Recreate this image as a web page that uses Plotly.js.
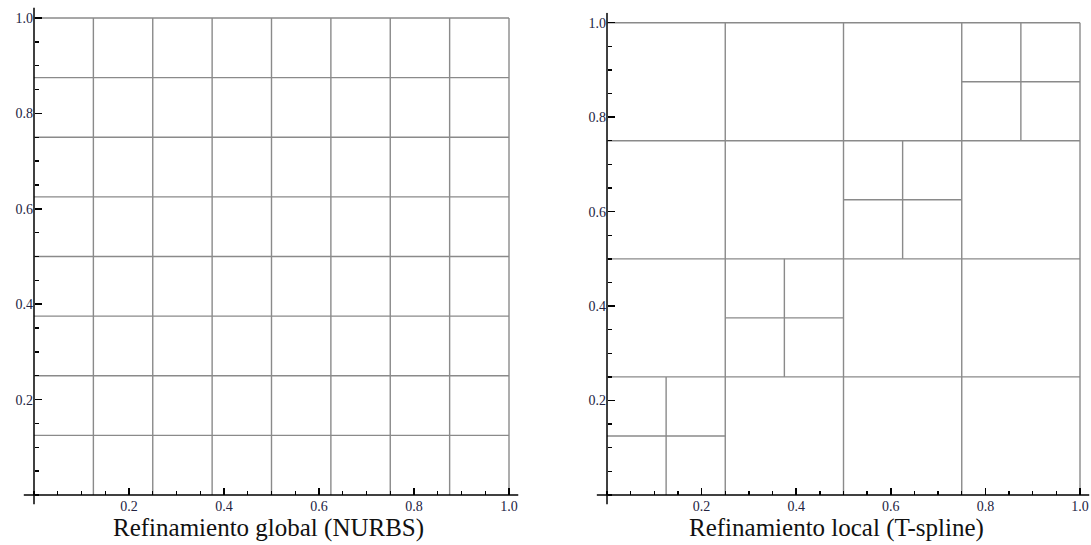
<!DOCTYPE html>
<html>
<head>
<meta charset="utf-8">
<script src="https://cdn.plot.ly/plotly-3.0.1.min.js"></script>
<style>html,body{margin:0;padding:0;background:#fff;}#chart{width:1091px;height:545px;}</style>
</head>
<body>
<div id="chart"></div>
<script>
// Global refinement (NURBS): uniform knot lines
const globalKnots = [0.125, 0.25, 0.375, 0.5, 0.625, 0.75, 0.875, 1.0];

// Local refinement (T-spline): vertical segments x, from y0 to y1
const tVertX  = [0.25, 0.5, 0.75, 1.0, 0.125, 0.375, 0.625, 0.875];
const tVertY0 = [0,    0,   0,    0,   0,     0.25,  0.5,   0.75];
const tVertY1 = [1,    1,   1,    1,   0.25,  0.5,   0.75,  1.0];
// horizontal segments y, from x0 to x1
const tHorY  = [0.25, 0.5, 0.75, 1.0, 0.125, 0.375, 0.625, 0.875];
const tHorX0 = [0,    0,   0,    0,   0,     0.25,  0.5,   0.75];
const tHorX1 = [1,    1,   1,    1,   0.25,  0.5,   0.75,  1.0];

const tickVals = [0.2, 0.4, 0.6, 0.8, 1.0];
const tickText = ['0.2', '0.4', '0.6', '0.8', '1.0'];
const titles = ['Refinamiento global (NURBS)', 'Refinamiento local (T-spline)'];

const lineStyle = {color: '#8a8a8a', width: 1.4};

function segTrace(x0s, y0s, x1s, y1s, xa, ya, style) {
  const xs = [], ys = [];
  for (let i = 0; i < x0s.length; i++) {
    xs.push(x0s[i], x1s[i], null);
    ys.push(y0s[i], y1s[i], null);
  }
  return {x: xs, y: ys, xaxis: xa, yaxis: ya, type: 'scatter', mode: 'lines',
          line: style, hoverinfo: 'skip', showlegend: false, cliponaxis: false};
}

// left grid
const gx0 = [], gy0 = [], gx1 = [], gy1 = [];
globalKnots.forEach(k => { gx0.push(k); gy0.push(0); gx1.push(k); gy1.push(1); });
globalKnots.forEach(k => { gx0.push(0); gy0.push(k); gx1.push(1); gy1.push(k); });
const traceLeft = segTrace(gx0, gy0, gx1, gy1, 'x', 'y', lineStyle);

// right mesh
const rx0 = [], ry0 = [], rx1 = [], ry1 = [];
tVertX.forEach((x, i) => { rx0.push(x); ry0.push(tVertY0[i]); rx1.push(x); ry1.push(tVertY1[i]); });
tHorY.forEach((y, i) => { rx0.push(tHorX0[i]); ry0.push(y); rx1.push(tHorX1[i]); ry1.push(y); });
const traceRight = segTrace(rx0, ry0, rx1, ry1, 'x2', 'y2', lineStyle);

const W = 1091, H = 545;
const XR = [-0.022, 1.02];
const YR1 = [-0.02, 1.022];
const YR2 = [-0.02, 1.021];

// axis lines crossing at the origin, spanning the axis ranges
const axStyle = {color: '#000', width: 1.5};
const axesLeft = segTrace([XR[0], 0], [0, YR1[0]], [XR[1], 0], [0, YR1[1]], 'x', 'y', axStyle);
const axesRight = segTrace([XR[0], 0], [0, YR2[0]], [XR[1], 0], [0, YR2[1]], 'x2', 'y2', axStyle);

const tickFont = {family: 'Liberation Serif, Times New Roman, serif', size: 14, color: '#23233f'};

function commonAxis() {
  return {
    anchor: 'free',
    showline: false,
    showgrid: false, zeroline: false,
    ticks: 'inside', ticklen: 7, tickwidth: 1.5, tickcolor: '#000',
    tickmode: 'array', tickvals: tickVals, ticktext: tickText,
    tickfont: tickFont, ticklabelstandoff: 1,
    minor: {tickmode: 'linear', tick0: 0, dtick: 0.05, ticks: 'inside', ticklen: 4, tickwidth: 1.4, tickcolor: '#000', showgrid: false},
    fixedrange: true
  };
}
function xAxis(pxLeft, pxRight, yPos) {
  return Object.assign(commonAxis(), {domain: [pxLeft / W, pxRight / W], range: XR, position: yPos});
}
function yAxis(pxBottom, pxTop, xPos, yr) {
  return Object.assign(commonAxis(), {domain: [(H - pxBottom) / H, (H - pxTop) / H], range: yr, position: xPos});
}

// left: x0 at 34px, x1 at 509px; y0 at 495px, y1 at 18px
const lxL = 34 + XR[0] * 475, lxR = 509 + (XR[1] - 1) * 475;
const lyB = 495 - YR1[0] * 477, lyT = 18 - (YR1[1] - 1) * 477;
// right: x0 at 607, x1 at 1080; y0 at 495, y1 at 22.7
const rxL = 607 + XR[0] * 473, rxR = 1080 + (XR[1] - 1) * 473;
const ryB = 495 - YR2[0] * 472.3, ryT = 22.7 - (YR2[1] - 1) * 472.3;

const titleFont = {family: 'Liberation Serif, Times New Roman, serif', size: 25, color: '#111'};

const layout = {
  width: W, height: H,
  margin: {l: 0, r: 0, t: 0, b: 0},
  paper_bgcolor: '#fff', plot_bgcolor: 'rgba(0,0,0,0)',
  showlegend: false,
  xaxis: xAxis(lxL, lxR, (H - 495) / H),
  yaxis: yAxis(lyB, lyT, 34 / W, YR1),
  xaxis2: xAxis(rxL, rxR, (H - 495) / H),
  yaxis2: yAxis(ryB, ryT, 607 / W, YR2),
  annotations: [
    {text: titles[0], xref: 'paper', yref: 'paper', x: 268.5 / W, y: (H - 528) / H,
     xanchor: 'center', yanchor: 'middle', showarrow: false, font: titleFont},
    {text: titles[1], xref: 'paper', yref: 'paper', x: 836.5 / W, y: (H - 528) / H,
     xanchor: 'center', yanchor: 'middle', showarrow: false, font: titleFont}
  ]
};

Plotly.newPlot('chart', [traceLeft, traceRight, axesLeft, axesRight], layout, {displayModeBar: false, staticPlot: true});
</script>
</body>
</html>
